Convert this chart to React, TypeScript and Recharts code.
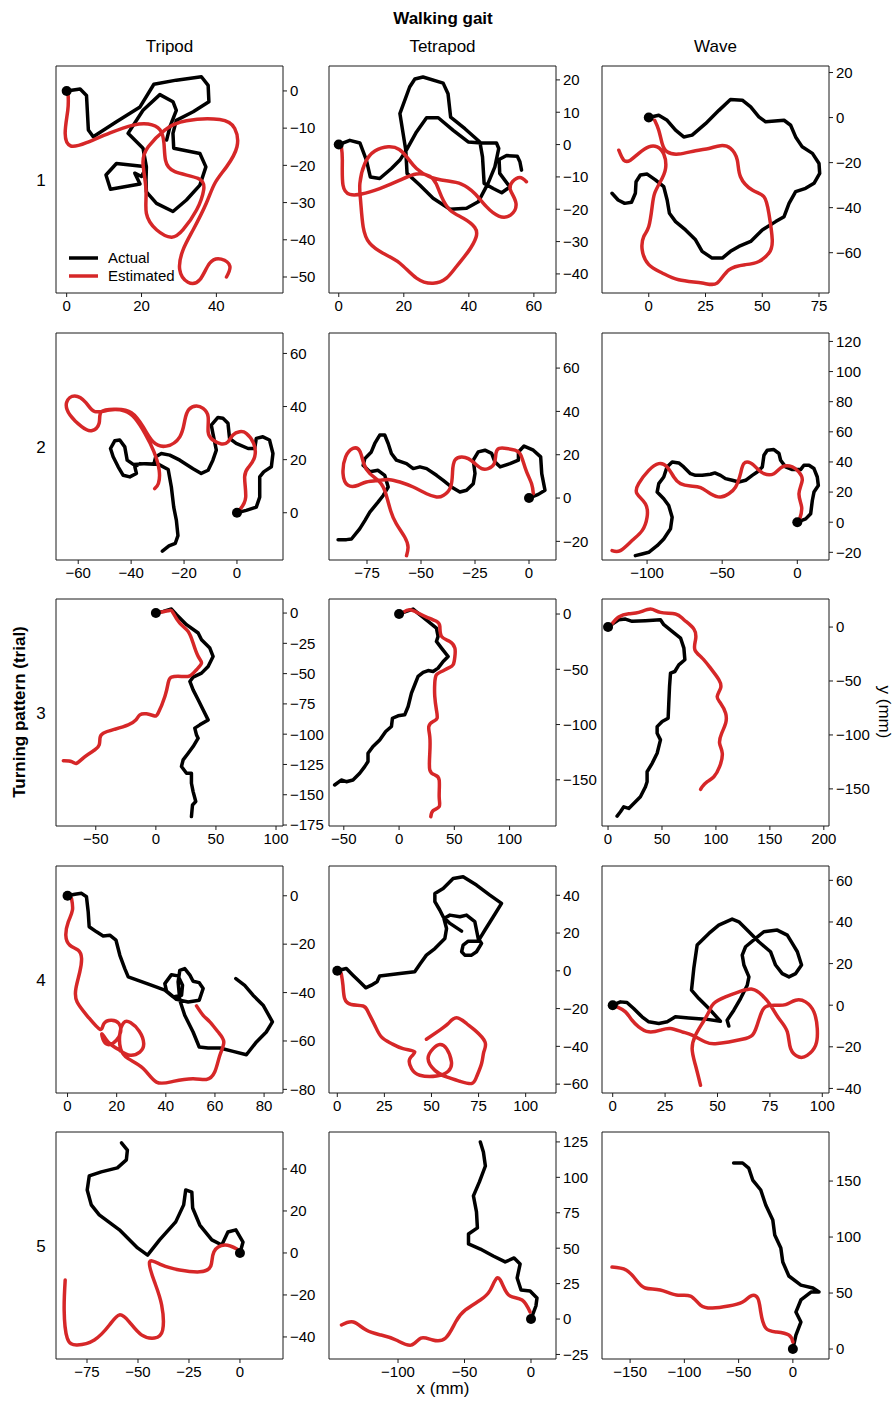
import { ComposedChart, Line, ReferenceArea, Scatter, XAxis, YAxis } from "recharts"

const FONT = '"Liberation Sans", Arial, Helvetica, sans-serif'
const RED = "#d62728"
const INK = "#1a1a1a"

type Pt = [number, number]

const gaits = ["Tripod", "Tetrapod", "Wave"]
const trials = ["1", "2", "3", "4", "5"]

// trial 1
const tripod1Actual: Pt[] = [[0, 0], [3.6, 0.5], [5.3, -1.2], [5.8, -10.5], [7.1, -12.3], [13.3, -8.3], [19.6, -4.3], [23.3, 1.8], [29.3, 2.9], [36, 3.8], [37.8, 1.5], [38, -2.9], [33.8, -5.6], [29.3, -7.9], [28.4, -11.4], [28.6, -15.4], [35.6, -16.8], [37.2, -20.4], [35.6, -25.3], [32, -29.3], [28.4, -32.4], [24, -30.2], [21.3, -27.1], [21.2, -23.9], [21.3, -20.4], [13.3, -19.5], [10.5, -22.6], [11.7, -26.4], [19.6, -25], [18.2, -22.1], [20, -23], [21.3, -20.4], [20.4, -15.4], [16.4, -11.4], [20.4, -5.2], [24.9, -1], [28.4, -2.9], [29.3, -5.2], [27.6, -9.6], [26.7, -13.2]]
const tripod1Estimated: Pt[] = [[0.4, -1.2], [0.3, -5.2], [-0.4, -11.4], [1.1, -14.8], [5.3, -13.9], [11.6, -11.3], [17.8, -9.2], [21.8, -8.9], [24.9, -10.4], [26, -14.1], [26.4, -18.6], [28.9, -21.7], [35.1, -23.5], [36.6, -26.6], [34.7, -32], [31.1, -37.3], [28, -39.3], [24, -37.3], [21.3, -32.9], [21.2, -26.6], [20.4, -19.5], [21.8, -15], [26.2, -10.5], [32, -8], [40.9, -7.7], [44.9, -10.1], [45.5, -15], [42.7, -20.4], [39.6, -24.8], [37.3, -30.2], [33.8, -37.3], [31.1, -42.7], [30.2, -48], [32.4, -51.4], [35.6, -50.7], [38.2, -46.3], [41.3, -45.2], [43.6, -47.1], [42.7, -50]]
const tetrapod1Actual: Pt[] = [[0, 0], [3.4, 1.3], [6.5, 0.5], [8.5, -4.8], [9.7, -10], [12.6, -10.5], [16.2, -7.4], [18.8, -4.8], [20.8, -1.7], [23.9, 3.9], [27, 8.3], [30.6, 8.3], [35.2, 4.4], [39.8, 0.8], [43.9, 0.5], [48.5, 0.5], [49.2, -1.2], [48, -6.9], [45.9, -12], [42.9, -17.7], [39.3, -19.7], [34.2, -20], [29, -16.6], [24.9, -12.5], [21, -8.9], [20.6, -1.7], [18.8, 9.6], [21.8, 17.8], [23.4, 20.3], [25.9, 20.9], [32.1, 19], [33.6, 15.7], [34.4, 8.5], [38.8, 4.9], [43.4, 0.8], [44.2, -3.8], [44.7, -12], [47.5, -13.6], [50.1, -14.9], [52.6, -13.1], [49.5, -8.9], [49.3, -4.6], [51.6, -3.4], [54.9, -3.6], [55.7, -5.3], [56.2, -7.9]]
const tetrapod1Estimated: Pt[] = [[0.8, -0.7], [1.1, -4.8], [1.3, -12.5], [3.4, -15.4], [7, -15.3], [12.6, -13.6], [18.8, -11], [23.9, -9.1], [28, -9.8], [30, -12.2], [31.6, -16.1], [34.2, -20.2], [38.3, -22.8], [41.8, -25.6], [42.2, -28.7], [39.8, -33.1], [36.2, -37.7], [33.1, -41.3], [29, -42.9], [23.9, -41.3], [18.8, -36.7], [13.6, -33.6], [9.5, -30.5], [7.5, -25.4], [6.7, -17.2], [6.5, -12], [8, -5.9], [11.1, -2], [15.2, -0.7], [18.6, -1.5], [21.3, -4.3], [23.9, -7.4], [28, -10], [33.1, -11.2], [37.7, -12.2], [41.8, -15.1], [45.4, -19.2], [49.2, -22.1], [52.8, -21.8], [54.5, -18.2], [52.8, -14.1], [53.4, -11.5], [55.7, -10.2], [57.7, -11.5]]
const wave1Actual: Pt[] = [[0, 0], [4.4, 1], [8.1, -1.2], [11.8, -5.6], [15.4, -8.6], [19.1, -7.8], [25, -2.7], [30.9, 3.2], [36, 8], [41.2, 7.7], [44.9, 4.7], [48.5, 0.3], [51.5, -1.9], [59.6, -1.2], [62.5, -3.4], [64.7, -8.6], [67.6, -13], [72.1, -15.9], [75, -20.4], [75.3, -24.8], [72.8, -29.2], [69.1, -31.4], [64.7, -32.9], [61.8, -38.1], [59.6, -44], [55.9, -46.2], [50, -49.9], [44.9, -55], [39.7, -57.2], [36, -59.4], [32.4, -62.4], [27.9, -62.4], [23.5, -59.4], [20.6, -54.3], [16.2, -49.9], [11.8, -46.2], [9.1, -42.5], [8.1, -36.6], [6.6, -30.7], [2.9, -27.7], [-0.7, -25.1], [-3.7, -25.5], [-5.6, -28.5], [-5.9, -33.6], [-7.6, -37.6], [-10.6, -38.1], [-13.5, -36.6], [-16.2, -33.6]]
const wave1Estimated: Pt[] = [[2.6, -1.2], [4.4, -5.6], [5.9, -11.5], [8.1, -15.2], [13.2, -16.2], [20.6, -14.7], [26.5, -13.7], [31.6, -12.5], [36, -13.7], [39, -18.9], [40.4, -26.3], [45.6, -32.2], [50.7, -35.1], [52.9, -42.5], [54.4, -54.3], [52.9, -60.2], [48.5, -63.9], [42.6, -65.3], [35.3, -67.6], [30.1, -73.5], [23.5, -73.5], [13.2, -72], [5.9, -69], [0, -65.3], [-2.9, -58.7], [-2.2, -52.8], [0, -48.4], [1.5, -39.5], [2.6, -33.6], [5.1, -28.5], [7.4, -22.6], [6.6, -16.2], [3.7, -13], [0, -13], [-4.4, -15.9], [-8.1, -18.9], [-11, -18.9], [-13.2, -14.5]]

// trial 2
const tripod2Actual: Pt[] = [[0, 0], [3.5, 0.9], [7.3, 2.1], [8.6, 5.9], [8.6, 13.5], [10.1, 15.4], [13, 17.3], [13.6, 22.3], [12.3, 27.4], [9.8, 28.6], [7.3, 28], [6.7, 24.2], [4.2, 24.2], [-0.3, 26.1], [-2.8, 28], [-3.4, 33.7], [-5.3, 35.6], [-7.2, 35.9], [-9.7, 33], [-9.1, 29.9], [-7.8, 23.6], [-9.1, 19.8], [-10.9, 16], [-13.5, 14.8], [-16.6, 16.6], [-21.6, 19.8], [-25.4, 21.7], [-28.6, 22.3], [-30.7, 21.1], [-31.4, 18.3], [-36.7, 18.5], [-38.6, 17.3], [-38, 14.8], [-40.5, 13.5], [-43, 14.1], [-44.9, 17.3], [-46.8, 21.1], [-47.8, 24.2], [-46.2, 27.1], [-44.3, 27.4], [-42.4, 24.8], [-41.5, 19.8], [-39.2, 18.2], [-34.2, 18.5], [-29.8, 18.3], [-26, 16.3], [-24.8, 9.7], [-23.9, 2.1], [-22.9, -2.9], [-22.3, -8.6], [-23.3, -11.5], [-25.7, -12.5], [-28.2, -14.5]]
const tripod2Estimated: Pt[] = [[1.3, 1.5], [3.3, 5.9], [2.9, 13.5], [4.5, 17.3], [6.7, 21.1], [6.3, 26.1], [3.5, 29.9], [1, 30.5], [-1.5, 29.3], [-3.4, 26.7], [-5.9, 25.9], [-9.1, 27.4], [-10.9, 30.5], [-10.9, 36.2], [-12.8, 39.3], [-15.3, 40.2], [-18.1, 39], [-19.7, 34.9], [-21.6, 28.6], [-26.7, 25.1], [-31.7, 26.7], [-35.5, 32.4], [-39.9, 37.7], [-45.5, 39], [-51.2, 38.1], [-52.1, 33.7], [-55, 30.9], [-58.7, 32.4], [-63.1, 36.8], [-64.4, 41.5], [-61.3, 44], [-57.1, 41.5], [-53.7, 38.1], [-48.1, 38.7], [-42.4, 38.3], [-38.6, 35.6], [-34.8, 29.9], [-31.4, 23], [-29.4, 16], [-29.7, 11], [-31.1, 9.1]]
const tetrapod2Actual: Pt[] = [[0, 0], [4.3, 1.7], [7.4, 3.6], [5.9, 11.3], [5.4, 19], [2, 22.1], [-2.3, 24], [-4.9, 21.3], [-4.9, 17.5], [-8.8, 15.9], [-13.4, 14.4], [-15.8, 16.7], [-17.3, 20.6], [-20.4, 22.1], [-23.5, 21.3], [-25.8, 17.5], [-25, 11.3], [-25.8, 6.6], [-28.9, 3.6], [-32, 2.8], [-35.9, 5.1], [-39.7, 8.2], [-42.8, 10.5], [-47.4, 13.6], [-50.5, 14.4], [-53.6, 13.6], [-56.7, 15.9], [-61.4, 17.5], [-63.7, 20.6], [-65.2, 25.2], [-66.8, 29.1], [-69.1, 29.1], [-71.4, 25.2], [-73, 21.3], [-76, 18.2], [-76.8, 15.1], [-73.7, 12.1], [-69.9, 12.8], [-66.8, 10.5], [-65.2, 5.1], [-67.5, 1.2], [-69.9, -1.9], [-73.7, -6.5], [-76, -10.4], [-78.4, -14.2], [-82.2, -18.9], [-84.5, -19.2], [-88.4, -19.2]]
const tetrapod2Estimated: Pt[] = [[2, 2], [1.2, 6.6], [-1.1, 12.1], [-2.9, 17.5], [-4.2, 20.6], [-6.5, 22.1], [-10.4, 22.9], [-13.8, 22.9], [-15.3, 20.6], [-16.1, 15.9], [-18.9, 13.6], [-21.9, 13.6], [-25, 15.9], [-28.1, 18.2], [-31.2, 19], [-34.3, 17.5], [-35.4, 12.1], [-36.3, 5.1], [-39.7, 1.2], [-42.8, 0.5], [-47.4, 2], [-53.6, 5.1], [-59.8, 7.4], [-64.5, 8.5], [-69.1, 8.2], [-75.3, 7.4], [-79.1, 5.9], [-83.8, 5.9], [-86.1, 11.3], [-84.9, 19], [-81.5, 22.9], [-78.4, 21.8], [-76.5, 15.9], [-73.7, 11.3], [-69.1, 7.4], [-66.3, 2], [-64.1, -5.7], [-61.4, -11.9], [-57.5, -18.1], [-56, -22.7], [-56.7, -26.6]]
const wave2Actual: Pt[] = [[0, 0], [5.6, 2.2], [8.9, 5.6], [10, 14.4], [11.1, 20], [14, 24.4], [13.3, 30], [11.1, 35.6], [7.8, 37.8], [4.4, 37.8], [2.2, 34.9], [-3.3, 34.9], [-7.8, 36.7], [-11.1, 41.1], [-12.2, 45.6], [-15.6, 48.2], [-20, 47.8], [-22.2, 44.4], [-23.3, 36.7], [-26.7, 33.3], [-30, 31.1], [-34.4, 27.8], [-38.9, 26.7], [-43.3, 27.8], [-47.8, 28.9], [-51.1, 31.1], [-54.9, 32.7], [-57.8, 31.8], [-63.3, 31.1], [-67.8, 31.1], [-71.1, 32.2], [-75.6, 36.7], [-78.9, 39.3], [-83.3, 40], [-86.7, 36.7], [-88.9, 30], [-92.2, 25.6], [-93.3, 20], [-88.9, 15.6], [-85.6, 11.1], [-83.3, 3.3], [-84.4, -4.4], [-88.9, -11.1], [-93.3, -15.6], [-98.9, -20], [-103.3, -21.1], [-107.8, -22.2]]
const wave2Estimated: Pt[] = [[1.6, 2.2], [2.9, 10], [1.1, 18.9], [3.3, 27.8], [1.1, 33.3], [-3.3, 36.7], [-10, 36.7], [-15.6, 32.2], [-22.2, 32.2], [-26.7, 35.6], [-31.1, 39.3], [-35.6, 38.9], [-37.8, 32.2], [-41.1, 23.3], [-45.6, 18.9], [-51.1, 16.7], [-57.8, 18.9], [-64.4, 22.9], [-71.1, 24], [-77.8, 25.6], [-82.2, 30], [-86.7, 36.7], [-92.2, 38.9], [-98.9, 34.4], [-105.6, 25.6], [-106.7, 18.9], [-101.1, 12.2], [-100, 3.3], [-103.3, -5.6], [-110, -12.2], [-117.8, -18.9], [-123.3, -18.9]]

// trial 3
const tripod3Actual: Pt[] = [[0, 0], [6.1, 1.4], [13, 3.3], [17.2, -1.4], [25.5, -9.6], [35.2, -16.5], [38, -22], [44.9, -28.9], [47.6, -35.8], [43.5, -44.1], [38, -49.6], [31, -52.9], [28.3, -56.5], [31, -63.4], [35.2, -71.6], [39.3, -79.9], [43.5, -88.2], [36.6, -92.3], [32.4, -95], [33.8, -100.6], [35.2, -103.3], [31, -110.2], [26.9, -115.7], [22.7, -121.2], [21.3, -126.7], [25.5, -132.2], [29.6, -132.2], [29.6, -140.5], [31, -147.4], [33.2, -155.6], [30.5, -158.4], [29.6, -168]]
const tripod3Estimated: Pt[] = [[3.3, 0.6], [11.6, 2.2], [14.4, 0], [19.9, -8.3], [26.9, -15.2], [31, -24.8], [35.2, -35.8], [38, -41.3], [33.8, -46.8], [28.3, -51.8], [21.3, -52.3], [13, -52.9], [10.2, -57.9], [7.5, -68.9], [1.9, -82.6], [-1.7, -84.8], [-7.8, -83.2], [-13.3, -84], [-16.6, -88.2], [-23, -92.3], [-34.1, -95.9], [-43.8, -99.2], [-46.5, -103.3], [-47.1, -108.8], [-50.7, -112.9], [-59, -118.5], [-65.9, -124], [-70.1, -122.6], [-77, -122]]
const tetrapod3Actual: Pt[] = [[0, 0], [6.6, 2.4], [12.7, 4.5], [18.7, -0.6], [26.3, -6.6], [33.8, -12.7], [35.3, -20.2], [33.8, -24.8], [38.4, -30.8], [44.4, -38.4], [39.9, -42.9], [35.3, -48.9], [30.8, -52], [26.3, -51.1], [21.8, -52.9], [17.2, -56.5], [14.2, -64], [11.2, -71.6], [8.2, -83.7], [5.1, -91.2], [-0.9, -92.1], [-6, -94.3], [-6.9, -101.8], [-12.1, -106.3], [-17.5, -113.9], [-23.6, -119.9], [-28.1, -126], [-28.1, -133.5], [-31.1, -138.1], [-35.6, -144.1], [-41.7, -150.2], [-47.7, -151.7], [-52.3, -150.2], [-58.3, -154.7]]
const tetrapod3Estimated: Pt[] = [[3.6, 1.5], [9.7, 3.9], [17.2, 0.9], [24.8, -2.7], [33.8, -6.6], [36.9, -11.2], [38.4, -20.2], [45.9, -24.8], [50.5, -30.8], [50.5, -38.4], [48.9, -45.9], [44.4, -48.9], [38.4, -52], [33.8, -55], [32.3, -62.5], [32.3, -74.6], [33.8, -86.7], [34.4, -94.3], [30.8, -97.3], [26.9, -101.8], [27.8, -110.9], [27.8, -126], [27.8, -141.1], [32.3, -145.6], [36.3, -150.2], [36.3, -165.3], [36.3, -174.3], [30.8, -177.9], [28.7, -183.4]]
const wave3Actual: Pt[] = [[0, 0], [5.3, 3.7], [9.9, 6.8], [16.1, 7.4], [22.3, 5.3], [34.7, 5.9], [48.6, 6.8], [51.7, 2.2], [59.4, -4], [67.2, -10.2], [70.3, -19.5], [71.2, -30.3], [65.6, -35], [61.9, -41.2], [57.9, -42.7], [57, -55.1], [56.3, -70.6], [55.7, -84.5], [50.2, -87.6], [45.5, -92.3], [45.5, -98.5], [48.6, -104.6], [45.5, -117], [40.9, -126.3], [36.2, -134.1], [36.2, -143.3], [34.7, -148], [30, -157.3], [23.8, -163.5], [19.2, -168.1], [14.6, -166.6], [11.5, -171.2], [8.4, -175.2]]
const wave3Estimated: Pt[] = [[3.1, 2.2], [9.9, 9.3], [19.2, 12.4], [28.5, 13.6], [39.3, 16.7], [48.6, 13.6], [62.5, 12.1], [70.3, 6.8], [79.6, -1.9], [81.1, -11.8], [80.5, -21.1], [87.3, -28.8], [95, -38.1], [102.8, -48.9], [104.3, -56.7], [101.2, -64.4], [104.3, -70.6], [109, -79.9], [109, -89.2], [105.3, -98.5], [103.4, -107.7], [105.9, -117], [103.4, -129.4], [98.1, -138.7], [92, -143.3], [87.3, -148], [85.8, -150.5]]

// trial 4
const tripod4Actual: Pt[] = [[0, 0], [3, 0.6], [5.7, 1], [7.7, -0.4], [8.4, -6.6], [8.8, -12.8], [11.8, -14.9], [14.5, -16.6], [17.2, -16.3], [19.7, -18.3], [21.3, -24.6], [23.3, -30.1], [24.7, -33.5], [33.5, -36.7], [39.6, -39], [43, -41.8], [46.4, -41.1], [46.8, -37], [45, -33.1], [42.3, -32.6], [39.6, -36.3], [40.3, -39.4], [44.3, -42.8], [49.1, -43.9], [53.6, -43.2], [55.2, -38.3], [53.6, -35.9], [51.1, -35.3], [49.8, -32.8], [47.7, -30.1], [45.7, -30.8], [45, -35.6], [45.7, -43.2], [47.7, -49.4], [51.1, -56.3], [53.6, -62.5], [57.2, -62.9], [62, -62.9], [67.4, -64.3], [72.8, -65.7], [76.9, -60.4], [80.9, -56.3], [83.4, -52.1], [79.6, -45.2], [75.5, -41.1], [72.1, -37], [68.5, -34.2]]
const tripod4Estimated: Pt[] = [[1.6, -1.1], [2, -5.9], [0.3, -10.8], [-0.7, -16.3], [0.9, -20.4], [4.3, -22.5], [5.7, -25.9], [5, -31.4], [3.4, -38.3], [3.9, -43.9], [8.4, -50.1], [13.2, -55.2], [14.8, -52.8], [17.9, -51.4], [20.9, -52.8], [21.6, -56.3], [19.9, -59.7], [17.2, -61.5], [14.8, -60.1], [14, -57], [16.5, -60.4], [21.3, -63.9], [25.4, -65.9], [29.4, -64.6], [31, -61.1], [29.2, -56], [25.6, -52.4], [22.9, -52.4], [21.3, -57], [21.6, -63.2], [24.7, -67.3], [30.8, -71.4], [36.2, -77], [43, -76.7], [51.1, -75.6], [56.5, -75.9], [59.9, -72.8], [62, -65.9], [63.6, -60.4], [61.3, -56.3], [57.9, -52.1], [55.2, -49.4], [52.5, -45.5]]
const tetrapod4Actual: Pt[] = [[0, 0], [4.8, 1.2], [8.3, -2.3], [11.9, -5.8], [15.1, -9], [18.1, -7.6], [21.1, -5.8], [22.5, -2.7], [33.2, -1.4], [41.1, -0.5], [44.1, 3.9], [47.3, 8.3], [51.8, 11.8], [57.1, 17.1], [58, 22.4], [56.6, 27.7], [59.8, 29.5], [65.1, 28.6], [68.6, 29.5], [73, 26], [74.8, 17.1], [76.6, 14.5], [73.9, 10.1], [71.3, 8.3], [67.7, 8.3], [66, 10.1], [66.8, 13.6], [69.5, 15.7], [74.8, 15.7], [78.4, 21.6], [82.8, 28.6], [87.2, 35.7], [81, 40.1], [73.9, 45.4], [66.8, 49.8], [61.5, 48.9], [56.2, 43.6], [51.8, 41], [51.8, 36.6], [54.4, 32.2], [56.2, 28.6], [59.8, 25.1], [66, 21]]
const tetrapod4Estimated: Pt[] = [[2.1, -1.4], [3, -7.6], [3.9, -14.7], [7.4, -17.8], [13.7, -18.6], [16.3, -21.7], [19.9, -28.8], [23.4, -35], [28.7, -38.5], [34.9, -41.2], [41.1, -42.9], [38.5, -46.5], [39.4, -51.8], [43.8, -55.3], [52.7, -55.7], [58.9, -53.2], [60.6, -48.2], [58, -41.2], [54.4, -39], [50.9, -41.2], [48.2, -46.5], [51.8, -52.7], [58, -56.2], [65.1, -58.5], [71.3, -59.7], [73.9, -56.2], [76.6, -49.1], [77.8, -42.9], [78.4, -37.6], [73, -31.4], [68.6, -27.9], [63.3, -24.9], [58.9, -27.9], [54.4, -31.4], [47.3, -36.2]]
const wave4Actual: Pt[] = [[0, 0], [3.7, 1.6], [6.8, 1.3], [10, -1.6], [14, -5.6], [17.2, -8], [22, -8.8], [26, -8], [29.9, -5.6], [36.3, -6.1], [44.3, -6.7], [51.4, -7.7], [45.9, -1.6], [41.1, 3.2], [37.6, 7.2], [38.7, 17.7], [40.3, 28.9], [45.9, 34.5], [50.6, 38.5], [57, 41.4], [60.2, 40.1], [65, 35.3], [69.7, 30.5], [75.3, 25.7], [77.7, 19.3], [80.9, 15.2], [84.1, 13.6], [87.3, 15.2], [90.1, 19.3], [88.1, 25.7], [85.7, 29.7], [83.3, 33.7], [78.5, 36.1], [72.1, 35.3], [68.2, 32.1], [63.4, 28.1], [61.8, 24.1], [62.6, 19.3], [65, 13.6], [64.2, 9.6], [61, 3.2], [57.8, -2.4], [54.6, -7.2], [55.4, -10]]
const wave4Estimated: Pt[] = [[2.1, -0.8], [6.1, -3.2], [9.2, -7.2], [12.4, -10.4], [17.2, -12.8], [22.8, -12], [27.5, -11.2], [33.1, -12.8], [37.9, -14.4], [44.3, -17.7], [49, -18.5], [55.4, -17.7], [61.8, -16.4], [66.6, -14.4], [68.9, -9.6], [70.5, -4.8], [72.9, -0.8], [77.7, 0], [82.5, 0.3], [87.3, 2.4], [92, 1.6], [96, -3.2], [97.6, -11.2], [96.8, -19.3], [92.8, -24.1], [88.9, -24.9], [84.9, -20.9], [83.3, -12.8], [79.3, -6.4], [75.3, 0], [71.3, 4.8], [66.6, 7.7], [60.2, 6.4], [53.8, 4], [48.2, 0.8], [45.9, -3.2], [42.7, -8.8], [39.5, -14.4], [37.9, -20.9], [39.5, -28.9], [41.9, -38.5]]

// trial 5
const tripod5Actual: Pt[] = [[0, 0], [1.5, 5.2], [-2, 11], [-5.9, 10], [-8.9, 3.8], [-13.8, 6.2], [-19.7, 13.3], [-23.2, 21.4], [-23.6, 29], [-26.6, 30], [-27.6, 22.9], [-31.5, 14.8], [-39.4, 6.2], [-45.3, -1], [-50.2, 2.4], [-59.1, 11], [-69, 18.1], [-72.9, 22.9], [-74.9, 30], [-73.9, 36.7], [-68, 38.6], [-60.1, 40.5], [-55.7, 44.3], [-55.2, 49], [-58.1, 52.4]]
const tripod5Estimated: Pt[] = [[-1.5, 1.9], [-7.4, 3.8], [-12.8, 0.5], [-14.3, -6.2], [-19.7, -9], [-29.6, -8.1], [-38.4, -5.7], [-44.3, -4.3], [-41.9, -13.8], [-38.4, -24.8], [-37.9, -36.7], [-41.9, -40.5], [-48.3, -39], [-54.2, -32.9], [-59.1, -29.5], [-64, -34.3], [-71.4, -41.4], [-79.8, -43.8], [-84.7, -40.5], [-86.2, -27.1], [-85.7, -12.9]]
const tetrapod5Actual: Pt[] = [[0, 0], [3.7, 9.2], [4.5, 14.8], [-0.7, 19.8], [-7.5, 20.5], [-10.4, 29], [-8.2, 38.8], [-12.7, 43.1], [-19.4, 40.3], [-28.4, 44.5], [-38.1, 49.4], [-47, 53], [-47, 60], [-40.3, 64.3], [-41, 75.6], [-43.3, 86.9], [-38.8, 96.8], [-34.3, 108], [-35.8, 117.9], [-38.1, 125]]
const tetrapod5Estimated: Pt[] = [[-0.7, 4.9], [-6.7, 13.4], [-15.7, 16.2], [-20.9, 23.3], [-25.4, 29], [-30.6, 20.5], [-38.1, 13.4], [-49.3, 6.4], [-56.7, -2.1], [-64.2, -13.4], [-73.9, -14.8], [-82.8, -13.4], [-90.3, -18.4], [-101.5, -14.8], [-112.7, -11.3], [-123.9, -7.8], [-133.6, -2.1], [-142.5, -4.2]]
const wave5Actual: Pt[] = [[0, 0], [2.8, 12.5], [7.4, 24.1], [2.8, 33], [7.4, 43.8], [16.7, 50.9], [24.1, 50.9], [18.5, 54.5], [7.4, 57.1], [-3.7, 65.2], [-9.3, 77.7], [-11.1, 90.2], [-16.7, 101.8], [-18.5, 115.2], [-25, 128.6], [-29.6, 142], [-37, 150.9], [-40.7, 161.6], [-46.3, 166.1], [-54.6, 166.1]]
const wave5Estimated: Pt[] = [[0, 6.3], [-3.7, 12.5], [-14.8, 15.2], [-25, 18.8], [-29.6, 33], [-32.4, 45.5], [-38.9, 47.3], [-46.3, 42], [-59.3, 38.4], [-74.1, 36.6], [-85.2, 39.3], [-94.4, 47.3], [-107.4, 48.2], [-122.2, 52.7], [-136.1, 54.5], [-144.4, 61.6], [-153.7, 70.5], [-166.7, 73.2]]

interface PanelSpec {
  actual: Pt[]
  estimated: Pt[]
  xDomain: [number, number]
  yDomain: [number, number]
  xTicks: number[]
  yTicks: number[]
}

const PANELS: PanelSpec[][] = [
  [
    { actual: tripod1Actual, estimated: tripod1Estimated, xDomain: [-2.85, 57.8], yDomain: [-54.3, 6.7], xTicks: [0, 20, 40], yTicks: [0, -10, -20, -30, -40, -50] },
    { actual: tetrapod1Actual, estimated: tetrapod1Estimated, xDomain: [-3, 66.8], yDomain: [-45.9, 24.3], xTicks: [0, 20, 40, 60], yTicks: [20, 10, 0, -10, -20, -30, -40] },
    { actual: wave1Actual, estimated: wave1Estimated, xDomain: [-20.6, 79.4], yDomain: [-77.9, 22.9], xTicks: [0, 25, 50, 75], yTicks: [20, 0, -20, -40, -60] },
  ],
  [
    { actual: tripod2Actual, estimated: tripod2Estimated, xDomain: [-68.4, 17.4], yDomain: [-17.8, 67.7], xTicks: [-60, -40, -20, 0], yTicks: [0, 20, 40, 60] },
    { actual: tetrapod2Actual, estimated: tetrapod2Estimated, xDomain: [-92.6, 12.5], yDomain: [-28.6, 76.2], xTicks: [-75, -50, -25, 0], yTicks: [-20, 0, 20, 40, 60] },
    { actual: wave2Actual, estimated: wave2Estimated, xDomain: [-130, 21.1], yDomain: [-25.1, 125.6], xTicks: [-100, -50, 0], yTicks: [-20, 0, 20, 40, 60, 80, 100, 120] },
  ],
  [
    { actual: tripod3Actual, estimated: tripod3Estimated, xDomain: [-83.1, 105.8], yDomain: [-175.8, 11.6], xTicks: [-50, 0, 50, 100], yTicks: [0, -25, -50, -75, -100, -125, -150, -175] },
    { actual: tetrapod3Actual, estimated: tetrapod3Estimated, xDomain: [-63.4, 142], yDomain: [-191.8, 13.6], xTicks: [-50, 0, 50, 100], yTicks: [0, -50, -100, -150] },
    { actual: wave3Actual, estimated: wave3Estimated, xDomain: [-5.6, 204.8], yDomain: [-184.4, 26], xTicks: [0, 50, 100, 150, 200], yTicks: [0, -50, -100, -150] },
  ],
  [
    { actual: tripod4Actual, estimated: tripod4Estimated, xDomain: [-4.7, 87.7], yDomain: [-81.5, 12.3], xTicks: [0, 20, 40, 60, 80], yTicks: [0, -20, -40, -60, -80] },
    { actual: tetrapod4Actual, estimated: tetrapod4Estimated, xDomain: [-4.4, 116.1], yDomain: [-64.7, 55.5], xTicks: [0, 25, 50, 75, 100], yTicks: [-60, -40, -20, 0, 20, 40] },
    { actual: wave4Actual, estimated: wave4Estimated, xDomain: [-5.1, 103.2], yDomain: [-42.2, 66.9], xTicks: [0, 25, 50, 75, 100], yTicks: [-40, -20, 0, 20, 40, 60] },
  ],
  [
    { actual: tripod5Actual, estimated: tripod5Estimated, xDomain: [-90.2, 21.1], yDomain: [-50.5, 57.6], xTicks: [-75, -50, -25, 0], yTicks: [-40, -20, 0, 20, 40] },
    { actual: tetrapod5Actual, estimated: tetrapod5Estimated, xDomain: [-151.9, 18.8], yDomain: [-28.2, 132], xTicks: [-100, -50, 0], yTicks: [-25, 0, 25, 50, 75, 100, 125] },
    { actual: wave5Actual, estimated: wave5Estimated, xDomain: [-175.9, 33.3], yDomain: [-8.9, 193.8], xTicks: [-150, -100, -50, 0], yTicks: [0, 50, 100, 150] },
  ],
]

const COL_X = [56, 329, 602]
const ROW_Y = [66, 333, 599, 866, 1132]
const BOX = 227

const toRows = (pts: Pt[]) => pts.map(([x, y]) => ({ x, y }))
const fmt = (v: number) => (v < 0 ? `\u2212${Math.abs(v)}` : `${v}`)
const tickStyle = { fill: "#000", fontSize: 15, fontFamily: FONT }

const StartDot = (props: any) => <circle cx={props.cx} cy={props.cy} r={5} fill="#000" />

function Panel({ spec }: { spec: PanelSpec }) {
  return (
    <ComposedChart width={BOX + 52} height={BOX + 32} margin={{ top: 2, left: 2, right: 0, bottom: 0 }}>
      <XAxis
        type="number"
        dataKey="x"
        domain={spec.xDomain}
        ticks={spec.xTicks}
        interval={0}
        allowDataOverflow
        axisLine={false}
        tickLine={{ stroke: INK }}
        tickSize={4}
        tickMargin={3}
        tick={tickStyle}
        tickFormatter={fmt}
        height={30}
      />
      <YAxis
        type="number"
        dataKey="y"
        orientation="right"
        domain={spec.yDomain}
        ticks={spec.yTicks}
        interval={0}
        allowDataOverflow
        axisLine={false}
        tickLine={{ stroke: INK }}
        tickSize={4}
        tickMargin={3}
        tick={tickStyle}
        tickFormatter={fmt}
        width={50}
      />
      <ReferenceArea
        x1={spec.xDomain[0]}
        x2={spec.xDomain[1]}
        y1={spec.yDomain[0]}
        y2={spec.yDomain[1]}
        fill="none"
        stroke={INK}
        strokeWidth={1}
      />
      <Line
        data={toRows(spec.actual)}
        dataKey="y"
        type="linear"
        stroke="#000"
        strokeWidth={3.5}
        strokeLinejoin="round"
        strokeLinecap="round"
        dot={false}
        activeDot={false}
        isAnimationActive={false}
      />
      <Line
        data={toRows(spec.estimated)}
        dataKey="y"
        type="natural"
        stroke={RED}
        strokeWidth={3.5}
        strokeLinejoin="round"
        strokeLinecap="round"
        dot={false}
        activeDot={false}
        isAnimationActive={false}
      />
      <Scatter data={[{ x: 0, y: 0 }]} shape={StartDot} isAnimationActive={false} />
    </ComposedChart>
  )
}

export default function App() {
  return (
    <div style={{ position: "absolute", left: 0, top: 0, width: 895, height: 1401, background: "#fff", fontFamily: FONT }}>
      {PANELS.map((row, r) =>
        row.map((spec, c) => (
          <div key={`${r}-${c}`} style={{ position: "absolute", left: COL_X[c] - 2, top: ROW_Y[r] - 2 }}>
            <Panel spec={spec} />
          </div>
        )),
      )}
      <svg width={895} height={1401} style={{ position: "absolute", left: 0, top: 0, pointerEvents: "none" }}>
        <text x={443} y={24} textAnchor="middle" fontSize={17} fontWeight="bold" fill="#000">
          Walking gait
        </text>
        {gaits.map((g, c) => (
          <text key={g} x={COL_X[c] + BOX / 2} y={52} textAnchor="middle" fontSize={17} fill="#000">
            {g}
          </text>
        ))}
        {trials.map((t, r) => (
          <text key={t} x={41} y={ROW_Y[r] + BOX / 2 + 6} textAnchor="middle" fontSize={17} fill="#000">
            {t}
          </text>
        ))}
        <text x={25} y={712} textAnchor="middle" fontSize={17} fontWeight="bold" fill="#000" transform="rotate(-90 25 712)">
          Turning pattern (trial)
        </text>
        <text x={879} y={712} textAnchor="middle" fontSize={17} fill="#000" transform="rotate(90 879 712)">
          y (mm)
        </text>
        <text x={443} y={1394} textAnchor="middle" fontSize={17} fill="#000">
          x (mm)
        </text>
        <line x1={69} y1={258} x2={98} y2={258} stroke="#000" strokeWidth={3.5} />
        <line x1={69} y1={276} x2={98} y2={276} stroke={RED} strokeWidth={3.5} />
        <text x={108} y={263} fontSize={15} fill="#000">
          Actual
        </text>
        <text x={108} y={281} fontSize={15} fill="#000">
          Estimated
        </text>
      </svg>
    </div>
  )
}
